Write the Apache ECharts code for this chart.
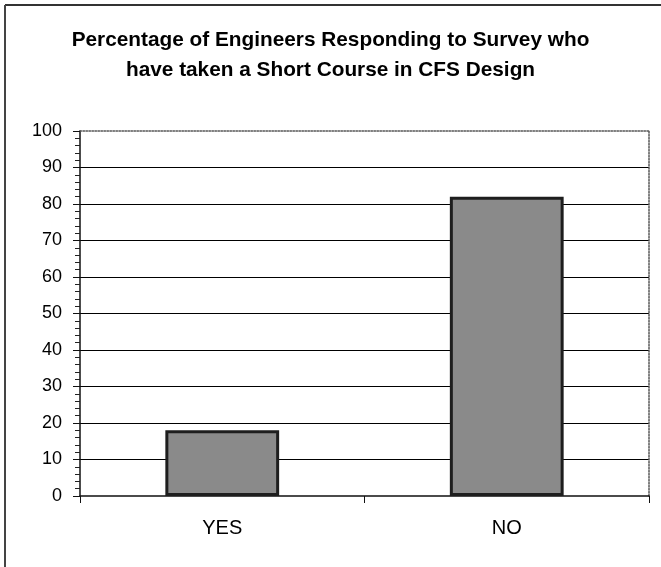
<!DOCTYPE html>
<html>
<head>
<meta charset="utf-8">
<script src="https://cdn.jsdelivr.net/npm/echarts@6/dist/echarts.min.js"></script>
<style>
  html, body { margin: 0; padding: 0; background: #fff; }
  #chart { width: 661px; height: 567px; }
</style>
</head>
<body>
<div id="chart"></div>
<script>
// Survey answers and their share of respondents (%)
const categories = ['YES', 'NO'];
const percentages = [18, 82];
const yTicks = { min: 0, max: 100, interval: 10 };
const titleLines = [
  'Percentage of Engineers Responding to Survey who',
  'have taken a Short Course in CFS Design'
];

const chart = echarts.init(document.getElementById('chart'), null, { renderer: 'canvas' });
const FONT = '"Liberation Sans", Arial, Helvetica, sans-serif';

chart.setOption({
  animation: false,
  backgroundColor: '#ffffff',
  title: {
    text: titleLines.join('\n'),
    left: 'center',
    top: 20,
    textStyle: {
      fontFamily: FONT,
      fontWeight: 'bold',
      fontSize: 20.8,
      lineHeight: 30,
      color: '#000'
    }
  },
  grid: {
    left: 80, right: 12, top: 131, bottom: 71,
    containLabel: false,
    show: false
  },
  // outer chart frame (left and top edges)
  graphic: [
    { type: 'line', shape: { x1: 5, y1: 5, x2: 661, y2: 5 }, style: { stroke: '#333', lineWidth: 2 } },
    { type: 'line', shape: { x1: 5, y1: 5, x2: 5, y2: 567 }, style: { stroke: '#444', lineWidth: 2 } }
  ],
  xAxis: [
    {
      type: 'category',
      data: categories,
      boundaryGap: true,
      axisLine: { show: true, lineStyle: { color: '#111', width: 1.5 } },
      axisTick: { show: true, length: 7, lineStyle: { color: '#111', width: 1 } },
      axisLabel: { margin: 22, fontFamily: FONT, fontSize: 20, color: '#000' },
      splitLine: { show: false }
    },
    {
      // dotted top edge of the plot area
      type: 'category',
      data: categories,
      position: 'top',
      axisLine: { show: true, onZero: false, lineStyle: { color: '#555', width: 1.5, type: 'dotted' } },
      axisTick: { show: false },
      axisLabel: { show: false },
      splitLine: { show: false }
    }
  ],
  yAxis: [
    {
      type: 'value',
      min: yTicks.min,
      max: yTicks.max,
      interval: yTicks.interval,
      axisLine: { show: true, lineStyle: { color: '#111', width: 1.5 } },
      axisTick: { show: true, length: 7, lineStyle: { color: '#111', width: 1 } },
      minorTick: { show: true, splitNumber: 5, length: 5, lineStyle: { color: '#222', width: 1 } },
      axisLabel: { margin: 18, fontFamily: FONT, fontSize: 18, color: '#000' },
      splitLine: {
        show: true,
        showMinLine: false,
        showMaxLine: false,
        lineStyle: { color: '#000', width: 1.2 }
      }
    },
    {
      // dotted right edge of the plot area
      type: 'value',
      min: yTicks.min,
      max: yTicks.max,
      interval: yTicks.interval,
      position: 'right',
      axisLine: { show: true, onZero: false, lineStyle: { color: '#555', width: 1.5, type: 'dotted' } },
      axisTick: { show: false },
      axisLabel: { show: false },
      splitLine: { show: false }
    }
  ],
  series: [
    {
      type: 'bar',
      data: percentages,
      barWidth: '40%',
      itemStyle: {
        color: '#8a8a8a',
        borderColor: '#1e1e1e',
        borderWidth: 3
      },
      z: 3
    }
  ]
});
</script>
</body>
</html>
